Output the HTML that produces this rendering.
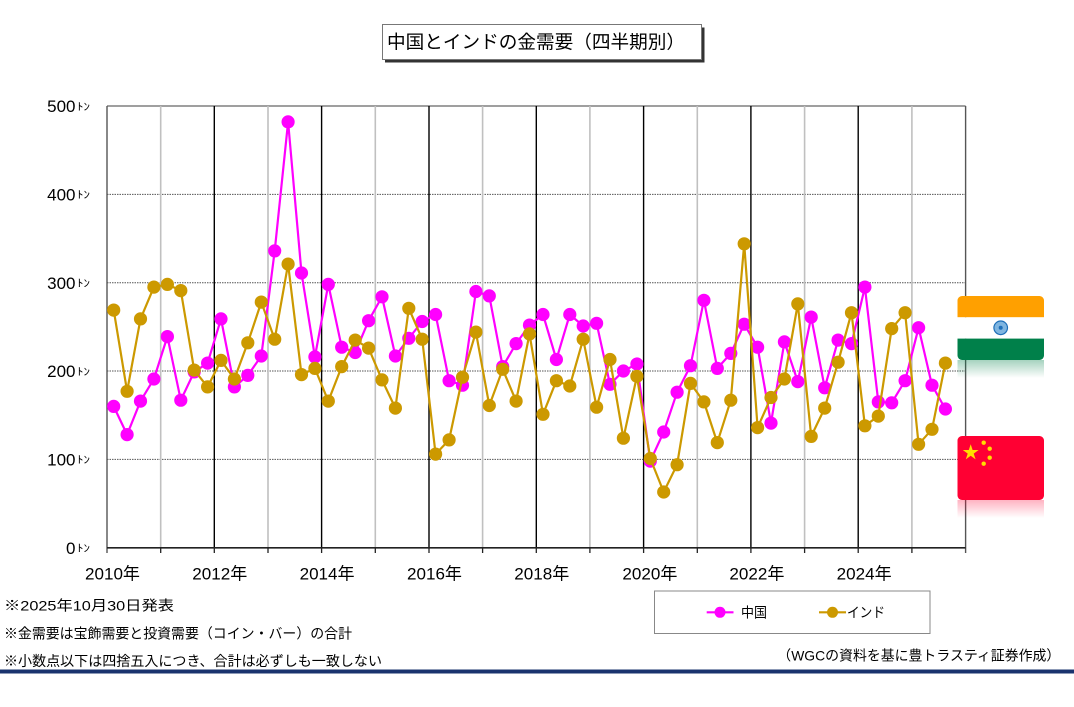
<!DOCTYPE html>
<html>
<head>
<meta charset="utf-8">
<style>
html,body{margin:0;padding:0;background:#fff;}
body{width:1074px;height:707px;overflow:hidden;}
svg{display:block;}
text{font-family:"Liberation Sans","Noto Sans CJK JP",sans-serif;fill:#000;}
</style>
</head>
<body>
<svg width="1074" height="707" viewBox="0 0 1074 707" xmlns="http://www.w3.org/2000/svg">
<defs>
  <marker id="mc" markerUnits="userSpaceOnUse" markerWidth="16" markerHeight="16" refX="8" refY="8" viewBox="0 0 16 16">
    <circle cx="8" cy="8" r="6.6" fill="#FF00FF"/>
  </marker>
  <marker id="mi" markerUnits="userSpaceOnUse" markerWidth="16" markerHeight="16" refX="8" refY="8" viewBox="0 0 16 16">
    <circle cx="8" cy="8" r="6.6" fill="#CC9900"/>
  </marker>
  <linearGradient id="gref" x1="0" y1="0" x2="0" y2="1">
    <stop offset="0" stop-color="#008048" stop-opacity="0.35"/>
    <stop offset="1" stop-color="#008048" stop-opacity="0"/>
  </linearGradient>
  <linearGradient id="rref" x1="0" y1="0" x2="0" y2="1">
    <stop offset="0" stop-color="#FF0033" stop-opacity="0.3"/>
    <stop offset="1" stop-color="#FF0033" stop-opacity="0"/>
  </linearGradient>
</defs>

<!-- Title box -->
<rect x="385" y="27.5" width="319.5" height="35" fill="#333"/>
<rect x="382.5" y="24.5" width="319" height="35" fill="#fff" stroke="#777" stroke-width="1"/>
<text x="387" y="48.7" font-size="18.5" textLength="298" lengthAdjust="spacingAndGlyphs">中国とインドの金需要（四半期別）</text>

<!-- horizontal grid -->
<g stroke="#555" stroke-width="1" stroke-dasharray="1.5,1">
  <line x1="107" y1="459.4" x2="965.6" y2="459.4"/>
  <line x1="107" y1="371.0" x2="965.6" y2="371.0"/>
  <line x1="107" y1="282.7" x2="965.6" y2="282.7"/>
  <line x1="107" y1="194.4" x2="965.6" y2="194.4"/>
</g>
<line x1="107" y1="106" x2="965.6" y2="106" stroke="#666" stroke-width="1.2"/>

<!-- vertical odd-year gray lines -->
<g stroke="#C0C0C0" stroke-width="1.6">
  <line x1="160.7" y1="106" x2="160.7" y2="548"/>
  <line x1="268.0" y1="106" x2="268.0" y2="548"/>
  <line x1="375.3" y1="106" x2="375.3" y2="548"/>
  <line x1="482.6" y1="106" x2="482.6" y2="548"/>
  <line x1="589.9" y1="106" x2="589.9" y2="548"/>
  <line x1="697.3" y1="106" x2="697.3" y2="548"/>
  <line x1="804.6" y1="106" x2="804.6" y2="548"/>
  <line x1="911.9" y1="106" x2="911.9" y2="548"/>
</g>
<!-- vertical even-year black lines -->
<g stroke="#000" stroke-width="1.4">
  <line x1="214.3" y1="106" x2="214.3" y2="548"/>
  <line x1="321.6" y1="106" x2="321.6" y2="548"/>
  <line x1="429.0" y1="106" x2="429.0" y2="548"/>
  <line x1="536.3" y1="106" x2="536.3" y2="548"/>
  <line x1="643.6" y1="106" x2="643.6" y2="548"/>
  <line x1="750.9" y1="106" x2="750.9" y2="548"/>
  <line x1="858.2" y1="106" x2="858.2" y2="548"/>
</g>
<!-- axes -->
<line x1="107" y1="106" x2="107" y2="553" stroke="#555" stroke-width="1.4"/>
<line x1="965.6" y1="106" x2="965.6" y2="553" stroke="#555" stroke-width="1.4"/>
<line x1="107" y1="547.8" x2="965.6" y2="547.8" stroke="#222" stroke-width="1.6"/>
<g stroke="#222" stroke-width="1.3">
  <line x1="160.7" y1="548" x2="160.7" y2="553"/>
  <line x1="214.3" y1="548" x2="214.3" y2="553"/>
  <line x1="268.0" y1="548" x2="268.0" y2="553"/>
  <line x1="321.6" y1="548" x2="321.6" y2="553"/>
  <line x1="375.3" y1="548" x2="375.3" y2="553"/>
  <line x1="429.0" y1="548" x2="429.0" y2="553"/>
  <line x1="482.6" y1="548" x2="482.6" y2="553"/>
  <line x1="536.3" y1="548" x2="536.3" y2="553"/>
  <line x1="589.9" y1="548" x2="589.9" y2="553"/>
  <line x1="643.6" y1="548" x2="643.6" y2="553"/>
  <line x1="697.3" y1="548" x2="697.3" y2="553"/>
  <line x1="750.9" y1="548" x2="750.9" y2="553"/>
  <line x1="804.6" y1="548" x2="804.6" y2="553"/>
  <line x1="858.2" y1="548" x2="858.2" y2="553"/>
  <line x1="911.9" y1="548" x2="911.9" y2="553"/>
</g>

<!-- Y labels -->
<g font-size="17" text-anchor="end">
  <text x="75.5" y="553.8">0</text>
  <text x="75.5" y="465.5">100</text>
  <text x="75.5" y="377.1">200</text>
  <text x="75.5" y="288.8">300</text>
  <text x="75.5" y="200.5">400</text>
  <text x="75.5" y="112.1">500</text>
</g>
<g font-size="10.5">
  <text x="77" y="551.5" textLength="13" lengthAdjust="spacingAndGlyphs">ﾄﾝ</text>
  <text x="77" y="463.2" textLength="13" lengthAdjust="spacingAndGlyphs">ﾄﾝ</text>
  <text x="77" y="374.8" textLength="13" lengthAdjust="spacingAndGlyphs">ﾄﾝ</text>
  <text x="77" y="286.5" textLength="13" lengthAdjust="spacingAndGlyphs">ﾄﾝ</text>
  <text x="77" y="198.2" textLength="13" lengthAdjust="spacingAndGlyphs">ﾄﾝ</text>
  <text x="77" y="109.8" textLength="13" lengthAdjust="spacingAndGlyphs">ﾄﾝ</text>
</g>

<!-- X labels -->
<g font-size="17">
  <text x="85" y="579.6" textLength="55" lengthAdjust="spacingAndGlyphs">2010年</text>
  <text x="192.3" y="579.6" textLength="55" lengthAdjust="spacingAndGlyphs">2012年</text>
  <text x="299.6" y="579.6" textLength="55" lengthAdjust="spacingAndGlyphs">2014年</text>
  <text x="407" y="579.6" textLength="55" lengthAdjust="spacingAndGlyphs">2016年</text>
  <text x="514.3" y="579.6" textLength="55" lengthAdjust="spacingAndGlyphs">2018年</text>
  <text x="622.4" y="579.6" textLength="55" lengthAdjust="spacingAndGlyphs">2020年</text>
  <text x="729.4" y="579.6" textLength="55" lengthAdjust="spacingAndGlyphs">2022年</text>
  <text x="836.7" y="579.6" textLength="55" lengthAdjust="spacingAndGlyphs">2024年</text>
</g>

<!-- China series -->
<polyline fill="none" stroke="#FF00FF" stroke-width="2.2" stroke-linejoin="round"
 marker-start="url(#mc)" marker-mid="url(#mc)" marker-end="url(#mc)"
 points="113.7,406.4 127.1,434.6 140.5,401.1 153.9,379.0 167.4,336.6 180.8,400.2 194.2,371.9 207.6,363.1 221.0,318.9 234.4,386.9 247.8,375.4 261.3,356.0 274.7,250.9 288.1,121.9 301.5,273.0 314.9,356.9 328.3,284.4 341.7,347.2 355.2,352.5 368.6,320.7 382.0,296.8 395.4,356.0 408.8,338.3 422.2,321.5 435.6,314.5 449.1,380.7 462.5,385.2 475.9,291.5 489.3,295.9 502.7,366.6 516.1,343.6 529.5,325.1 543.0,314.5 556.4,359.5 569.8,314.5 583.2,326.0 596.6,323.3 610.0,384.3 623.4,371.0 636.9,364.0 650.3,461.1 663.7,432.0 677.1,392.2 690.5,365.7 703.9,300.3 717.3,368.4 730.8,353.4 744.2,324.2 757.6,347.2 771.0,423.1 784.4,341.9 797.8,381.6 811.2,317.1 824.7,387.8 838.1,340.1 851.5,343.6 864.9,287.1 878.3,401.9 891.7,402.8 905.1,380.7 918.6,327.7 932.0,385.2 945.4,409.0"/>

<!-- India series -->
<polyline fill="none" stroke="#CC9900" stroke-width="2.2" stroke-linejoin="round"
 marker-start="url(#mi)" marker-mid="url(#mi)" marker-end="url(#mi)"
 points="113.7,310.1 127.1,391.3 140.5,318.9 153.9,287.1 167.4,284.4 180.8,290.6 194.2,370.1 207.6,386.9 221.0,360.4 234.4,379.0 247.8,342.8 261.3,302.1 274.7,339.2 288.1,264.1 301.5,374.6 314.9,368.4 328.3,401.1 341.7,366.6 355.2,340.1 368.6,348.1 382.0,379.9 395.4,408.1 408.8,308.3 422.2,339.2 435.6,454.1 449.1,439.9 462.5,377.2 475.9,332.1 489.3,405.5 502.7,369.3 516.1,401.1 529.5,333.9 543.0,414.3 556.4,380.7 569.8,386.0 583.2,339.2 596.6,407.2 610.0,359.5 623.4,438.2 636.9,376.3 650.3,458.5 663.7,492.0 677.1,464.7 690.5,383.4 703.9,401.9 717.3,442.6 730.8,400.2 744.2,243.8 757.6,427.6 771.0,397.5 784.4,379.0 797.8,303.9 811.2,436.4 824.7,408.1 838.1,362.2 851.5,312.7 864.9,425.8 878.3,416.1 891.7,328.6 905.1,312.7 918.6,444.3 932.0,429.3 945.4,363.1"/>

<!-- India flag -->
<rect x="957.5" y="360" width="86.5" height="18" fill="url(#gref)"/>
<clipPath id="cIn"><rect x="957.5" y="296" width="86.5" height="64" rx="4.5" ry="4.5"/></clipPath>
<g clip-path="url(#cIn)">
  <rect x="957.5" y="296" width="86.5" height="21.3" fill="#FFA000"/>
  <rect x="957.5" y="317.3" width="86.5" height="21.3" fill="#FFFFFF"/>
  <rect x="957.5" y="338.6" width="86.5" height="21.4" fill="#00804A"/>
</g>
<circle cx="1000.7" cy="327.8" r="6.8" fill="#7FB5E0" stroke="#1E6FB8" stroke-width="1.2"/>
<circle cx="1000.7" cy="327.8" r="2" fill="#1E6FB8"/>

<!-- China flag -->
<rect x="957.5" y="500" width="86.5" height="18" fill="url(#rref)"/>
<rect x="957.5" y="436" width="86.5" height="64" rx="4.5" ry="4.5" fill="#FF0033"/>
<g fill="#FFDE00">
  <polygon points="970.7,444.2 972.6,450.0 978.6,450.0 973.7,453.6 975.6,459.4 970.7,455.8 965.8,459.4 967.7,453.6 962.8,450.0 968.8,450.0"/>
  <circle cx="983.7" cy="442.7" r="2.2"/>
  <circle cx="989.7" cy="448.7" r="2.2"/>
  <circle cx="989.7" cy="457.7" r="2.2"/>
  <circle cx="983.7" cy="463.7" r="2.2"/>
</g>

<!-- Legend -->
<rect x="654.5" y="591" width="275.5" height="42.5" fill="#fff" stroke="#888" stroke-width="1"/>
<line x1="706.7" y1="612.3" x2="733.5" y2="612.3" stroke="#FF00FF" stroke-width="2.2"/>
<circle cx="720" cy="612.3" r="5.5" fill="#FF00FF"/>
<text x="741" y="617.3" font-size="14" textLength="26" lengthAdjust="spacingAndGlyphs">中国</text>
<line x1="819" y1="612.3" x2="846" y2="612.3" stroke="#CC9900" stroke-width="2.2"/>
<circle cx="832.5" cy="612.3" r="5.5" fill="#CC9900"/>
<text x="847" y="617.3" font-size="14" textLength="38" lengthAdjust="spacingAndGlyphs">インド</text>

<!-- Notes -->
<g font-size="14">
  <text x="4" y="610.3" textLength="170" lengthAdjust="spacingAndGlyphs">※2025年10月30日発表</text>
  <text x="4" y="638.6" textLength="348" lengthAdjust="spacingAndGlyphs">※金需要は宝飾需要と投資需要（コイン・バー）の合計</text>
  <text x="4" y="666" textLength="378" lengthAdjust="spacingAndGlyphs">※小数点以下は四捨五入につき、合計は必ずしも一致しない</text>
  <text x="777.3" y="660.3" textLength="283" lengthAdjust="spacingAndGlyphs">（WGCの資料を基に豊トラスティ証券作成）</text>
</g>

<!-- bottom navy rule -->
<rect x="0" y="669.5" width="1074" height="4" fill="#1A336E"/>
</svg>
</body>
</html>
